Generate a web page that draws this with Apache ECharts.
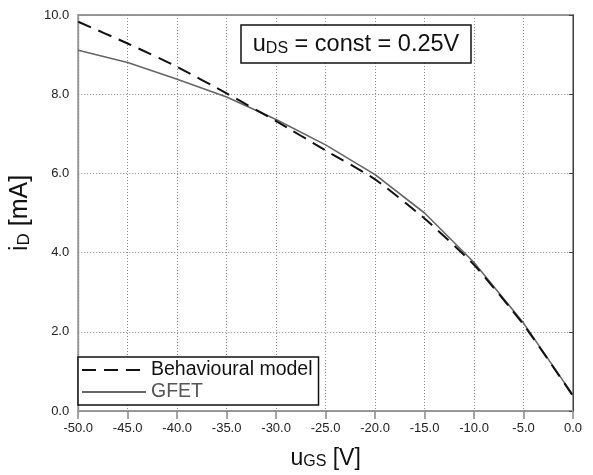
<!DOCTYPE html>
<html>
<head>
<meta charset="utf-8">
<script src="https://cdn.jsdelivr.net/npm/echarts@6/dist/echarts.min.js"></script>
<style>html,body{margin:0;padding:0;background:#fff;}#c{width:593px;height:475px;}</style>
</head>
<body>
<div id="c"></div>
<script>
const uGS = [-50, -45, -40, -35, -30, -25, -20, -15, -10, -5, 0];
const modelValues = [9.83, 9.28, 8.69, 8.02, 7.32, 6.58, 5.85, 4.86, 3.69, 2.18, 0.38];
const gfetValues  = [9.11, 8.80, 8.38, 7.93, 7.36, 6.72, 5.97, 5.00, 3.75, 2.22, 0.40];
const xTicks = [-50, -45, -40, -35, -30, -25, -20, -15, -10, -5, 0];
const yTicks = [0, 2, 4, 6, 8, 10];

const font = 'Liberation Sans, Arial, sans-serif';
const chart = echarts.init(document.getElementById('c'));
chart.setOption({
  animation: false,
  backgroundColor: '#fff',
  grid: { left: 76, right: 20, top: 15, bottom: 58, show: true, borderColor: '#999', borderWidth: 2 },
  xAxis: {
    type: 'value', min: xTicks[0], max: xTicks[xTicks.length-1], interval: 5,
    offset: 3,
    axisLine: { show: false },
    axisTick: { show: true, length: 8, lineStyle: { color: '#888', width: 1.5 } },
    axisLabel: { color: '#222', fontSize: 13, fontFamily: font, margin: 8, formatter: v => v.toFixed(1) },
    splitLine: { show: true, lineStyle: { color: '#888', type: [1, 2], width: 1 } },
    name: '{m|u}{s|GS}{m| [V]}', nameLocation: 'middle', nameGap: 31,
    nameTextStyle: { rich: {
      m: { fontSize: 23, fontFamily: font, color: '#111', verticalAlign: 'bottom', lineHeight: 25 },
      s: { fontSize: 16, fontFamily: font, color: '#111', verticalAlign: 'bottom', lineHeight: 21 }
    } }
  },
  yAxis: {
    type: 'value', min: 0, max: 10, interval: 2,
    offset: 3,
    axisLine: { show: true, lineStyle: { color: '#444', width: 1 } },
    axisTick: { show: true, length: 4, lineStyle: { color: '#444' } },
    axisLabel: { color: '#222', fontSize: 13, fontFamily: font, margin: 6, formatter: v => v.toFixed(1) },
    splitLine: { show: true, lineStyle: { color: '#888', type: [1, 2], width: 1 } },
    name: '{m|i}{s|D}{m| [mA]}', nameLocation: 'middle', nameGap: 42, nameRotate: 90,
    nameTextStyle: { rich: {
      m: { fontSize: 25, fontFamily: font, color: '#111', verticalAlign: 'bottom', lineHeight: 27 },
      s: { fontSize: 17, fontFamily: font, color: '#111', verticalAlign: 'bottom', lineHeight: 22 }
    } }
  },
  legend: {
    orient: 'vertical', left: 78, top: 357,
    backgroundColor: '#fff', borderColor: '#111', borderWidth: 1.5,
    padding: [3, 6, 3, 3], itemGap: 2, itemWidth: 64, itemHeight: 12,
    itemStyle: { opacity: 0 },
    textStyle: { fontSize: 19.5, fontFamily: font, color: '#111' },
    data: [
      { name: 'Behavioural model', textStyle: { color: '#111' } },
      { name: 'GFET', textStyle: { color: '#555' } }
    ]
  },
  series: [
    {
      name: 'GFET', type: 'line', showSymbol: false, symbol: 'none',
      data: uGS.map((x, i) => [x, gfetValues[i]]),
      lineStyle: { color: '#666', width: 1.6 }, itemStyle: { color: '#666' }, z: 2
    },
    {
      name: 'Behavioural model', type: 'line', showSymbol: false, symbol: 'none',
      smooth: 0.2,
      data: uGS.map((x, i) => [x, modelValues[i]]),
      lineStyle: { color: '#111', width: 2, type: [14, 8] }, itemStyle: { color: '#111' }, z: 3
    }
  ],
  graphic: [
    {
      type: 'rect', shape: { x: 241, y: 25, width: 230, height: 38 },
      style: { fill: '#fff', stroke: '#111', lineWidth: 1.5 }, z: 100
    },
    {
      type: 'text', x: 356, y: 44, z: 101,
      style: {
        text: '{m|u}{s|DS}{m| = const = 0.25V}',
        align: 'center', verticalAlign: 'middle',
        rich: {
          m: { fontSize: 23.5, fontFamily: font, fill: '#111', verticalAlign: 'bottom', lineHeight: 25 },
          s: { fontSize: 16, fontFamily: font, fill: '#111', verticalAlign: 'bottom', lineHeight: 21 }
        }
      }
    }
  ]
});
</script>
</body>
</html>
